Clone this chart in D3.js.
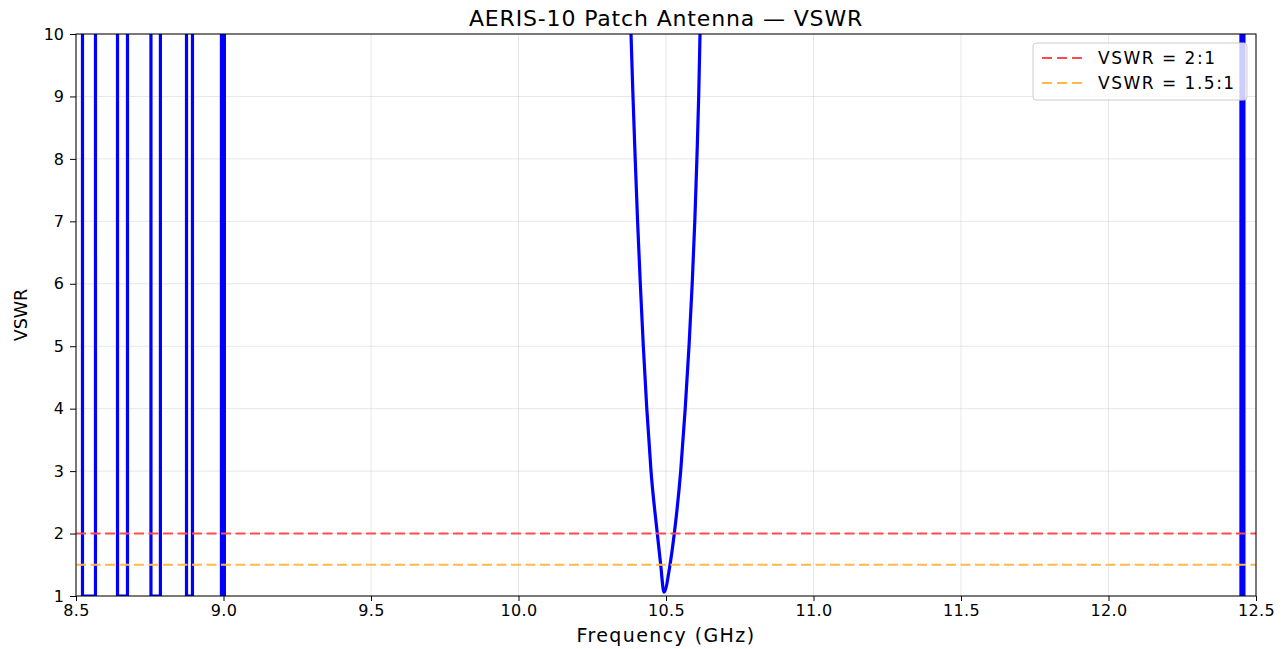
<!DOCTYPE html>
<html>
<head>
<meta charset="utf-8">
<script src="https://cdn.jsdelivr.net/npm/d3@7"></script>
<style>
  body { margin: 0; background: #fff; }
  svg { font-family: "DejaVu Sans", sans-serif; }
</style>
</head>
<body>
<svg width="1286" height="649"></svg>
<script>
// frequency points (GHz) and VSWR; 50 = off the top of the chart
var freq = [8.50, 8.5219, 8.5220, 8.5660, 8.5661, 8.6406, 8.6407, 8.6745, 8.6746,
    8.7540, 8.7541, 8.7861, 8.7862, 8.8745, 8.8746, 8.8948, 8.8949,
    8.9929, 8.9930, 9.0030, 9.0031,
    10.372, 10.3814, 10.3881, 10.3956, 10.4037, 10.4129, 10.4231, 10.4349, 10.4492,
    10.4705, 10.4820, 10.4932, 10.5136, 10.5281, 10.5498, 10.5651, 10.5780, 10.5888,
    10.5976, 10.6047, 10.6108, 10.6153, 10.625,
    12.4489, 12.4490, 12.4590, 12.4591, 12.50];
var vswr = [50, 50, 1, 1, 50, 50, 1, 1, 50,
    50, 1, 1, 50, 50, 1, 1, 50,
    50, 1, 1, 50,
    12, 10, 9, 8, 7, 6, 5, 4, 3,
    2, 1.5, 1.06, 1.5, 2, 3, 4, 5, 6,
    7, 8, 9, 10, 12,
    50, 1, 1, 50, 50];
var xTicks = [8.5, 9.0, 9.5, 10.0, 10.5, 11.0, 11.5, 12.0, 12.5];
var yTicks = [1, 2, 3, 4, 5, 6, 7, 8, 9, 10];
var refNames = ["VSWR = 2:1", "VSWR = 1.5:1"];
var refValues = [2, 1.5];
var refColors = ["#ff4d4d", "#ffb84d"];

var margin = {left: 76, right: 30, top: 34, bottom: 53};
var width = 1286, height = 649;
var svg = d3.select("svg");

var x = d3.scaleLinear().domain([8.5, 12.5]).range([margin.left, width - margin.right]);
var y = d3.scaleLinear().domain([1, 10]).range([height - margin.bottom, margin.top]);

svg.append("clipPath").attr("id", "plot")
  .append("rect")
  .attr("x", x(8.5)).attr("y", y(10))
  .attr("width", x(12.5) - x(8.5)).attr("height", y(1) - y(10));

// grid
svg.append("g").selectAll("line").data(xTicks).enter().append("line")
  .attr("x1", d => x(d)).attr("x2", d => x(d))
  .attr("y1", y(1)).attr("y2", y(10))
  .attr("stroke", "#b0b0b0").attr("stroke-opacity", 0.3).attr("stroke-width", 1);
svg.append("g").selectAll("line").data(yTicks).enter().append("line")
  .attr("y1", d => y(d)).attr("y2", d => y(d))
  .attr("x1", x(8.5)).attr("x2", x(12.5))
  .attr("stroke", "#b0b0b0").attr("stroke-opacity", 0.3).attr("stroke-width", 1);

var plot = svg.append("g").attr("clip-path", "url(#plot)");

var line = d3.line()
  .x((d, i) => x(freq[i]))
  .y(d => y(d))
  .curve(d3.curveMonotoneX);

plot.append("path")
  .datum(vswr)
  .attr("d", line)
  .attr("fill", "none")
  .attr("stroke", "#0000ff")
  .attr("stroke-width", 3.2)
  .attr("stroke-linejoin", "round");

plot.selectAll(".ref").data(refValues).enter().append("line")
  .attr("x1", x(8.5)).attr("x2", x(12.5))
  .attr("y1", d => y(d)).attr("y2", d => y(d))
  .attr("stroke", (d, i) => refColors[i])
  .attr("stroke-width", 2)
  .attr("stroke-dasharray", "10,4.5");

// axes
var xAxis = d3.axisBottom(x).tickValues(xTicks).tickFormat(d3.format(".1f")).tickSize(5).tickPadding(4);
var yAxis = d3.axisLeft(y).tickValues(yTicks).tickSize(6).tickPadding(6);

var gx = svg.append("g").attr("transform", "translate(0," + y(1) + ")").call(xAxis);
var gy = svg.append("g").attr("transform", "translate(" + x(8.5) + ",0)").call(yAxis);
[gx, gy].forEach(function(g) {
  g.select(".domain").remove();
  g.selectAll("line").attr("stroke", "#000").attr("stroke-width", 1);
  g.selectAll("text").attr("font-size", 16).attr("fill", "#000")
    .attr("font-family", "DejaVu Sans");
});
gx.selectAll("text").attr("letter-spacing", 0.4);

// frame
svg.append("rect")
  .attr("x", x(8.5)).attr("y", y(10))
  .attr("width", x(12.5) - x(8.5)).attr("height", y(1) - y(10))
  .attr("fill", "none").attr("stroke", "#000").attr("stroke-width", 1);

// legend
var lg = svg.append("g").attr("transform", "translate(1033,43)");
lg.append("rect")
  .attr("width", 214).attr("height", 57).attr("rx", 3)
  .attr("fill", "#fff").attr("fill-opacity", 0.8)
  .attr("stroke", "#cccccc").attr("stroke-width", 1);
refNames.forEach(function(name, i) {
  var yy = 15 + i * 25;
  lg.append("line")
    .attr("x1", 9).attr("x2", 49).attr("y1", yy).attr("y2", yy)
    .attr("stroke", refColors[i]).attr("stroke-width", 2)
    .attr("stroke-dasharray", "10,5");
  lg.append("text")
    .attr("x", 65).attr("y", yy + 6)
    .attr("font-size", 17).attr("letter-spacing", 1.5).text(name);
});

// titles
svg.append("text")
  .attr("x", (x(8.5) + x(12.5)) / 2).attr("y", 26)
  .attr("text-anchor", "middle").attr("font-size", 22).attr("letter-spacing", 0.85)
  .text("AERIS-10 Patch Antenna — VSWR");
svg.append("text")
  .attr("x", (x(8.5) + x(12.5)) / 2).attr("y", 642)
  .attr("text-anchor", "middle").attr("font-size", 19).attr("letter-spacing", 1.4)
  .text("Frequency (GHz)");
svg.append("text")
  .attr("transform", "translate(27," + (y(1) + y(10)) / 2 + ") rotate(-90)")
  .attr("text-anchor", "middle").attr("font-size", 17.5)
  .text("VSWR");
</script>
</body>
</html>
